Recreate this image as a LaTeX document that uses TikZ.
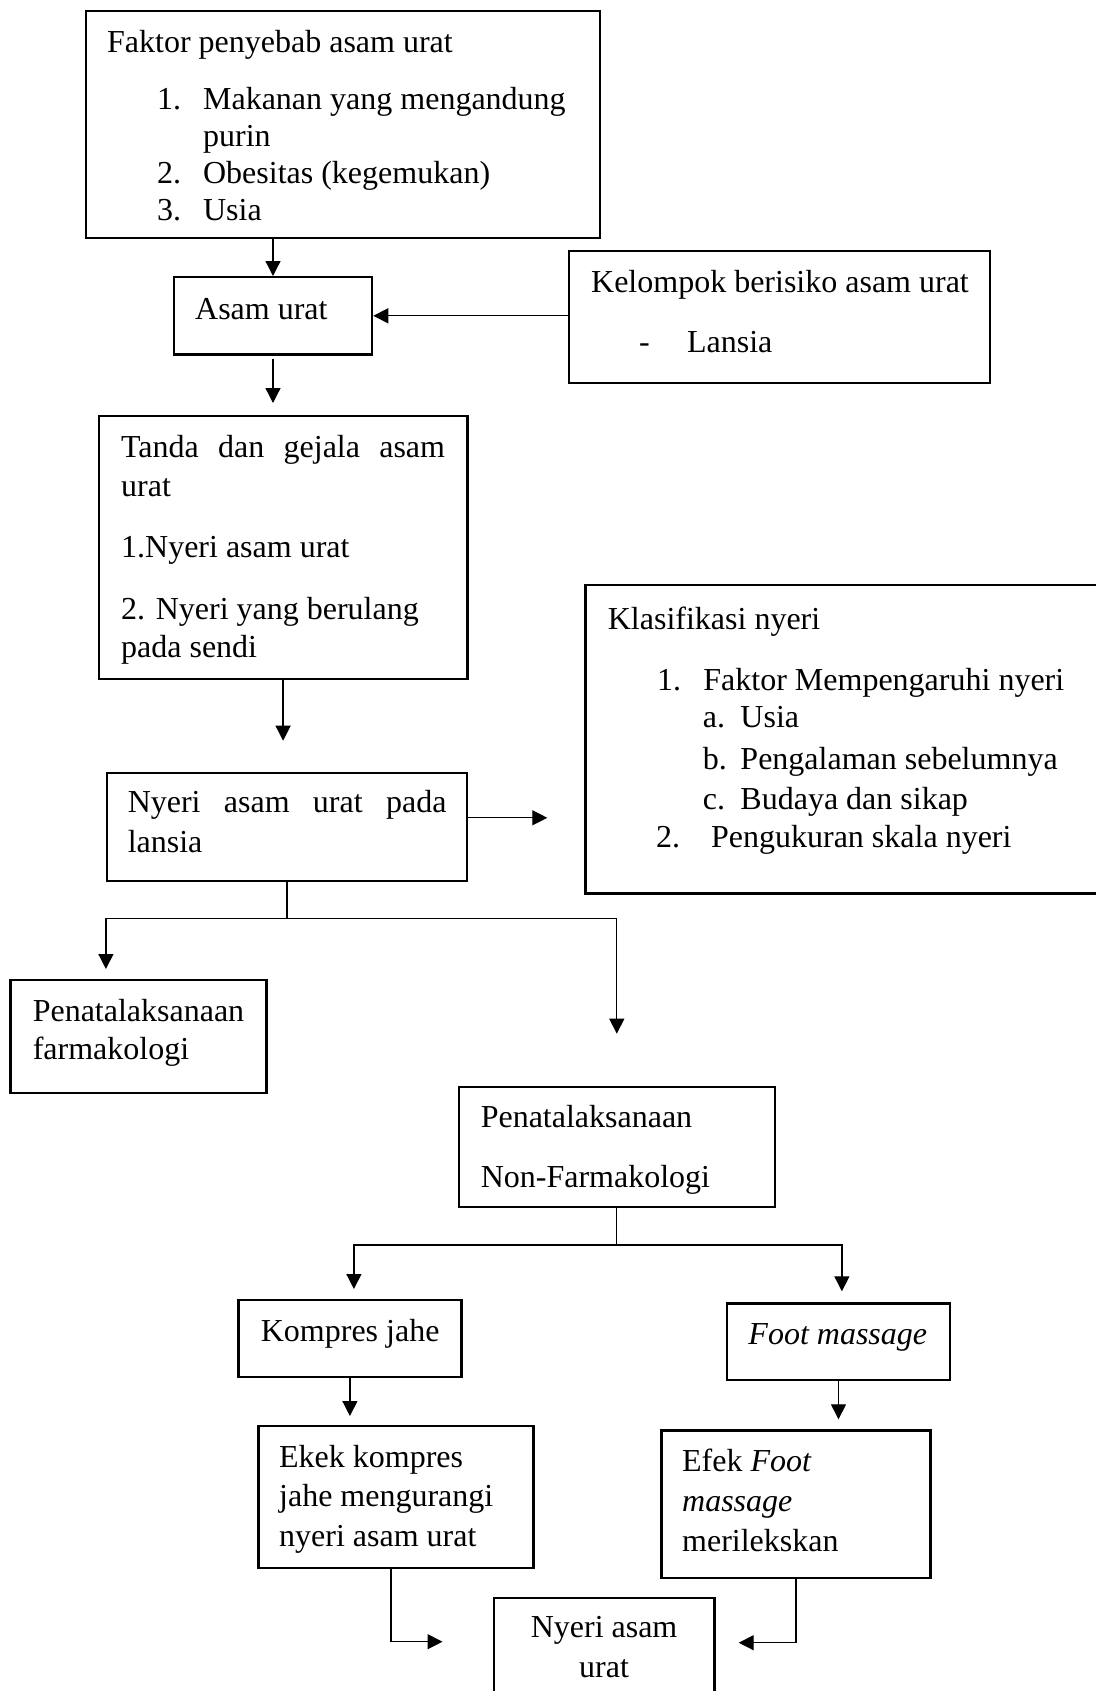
\documentclass[tikz,border=0pt]{standalone}
\usepackage{fontspec}
\setmainfont{Liberation Serif}
\usepackage{tikz}
\usetikzlibrary{arrows.meta}
\hyphenpenalty=10000
\newcommand{\butir}[3]{\hspace*{#1pt}\makebox[\dimexpr#2pt-#1pt\relax][l]{#3}}

\begin{document}
\begin{tikzpicture}[x=1pt,y=-1pt,>={Triangle[length=15pt,width=15pt]},
	kotak/.style={draw,line width=2.3pt,anchor=north west,inner ysep=0pt,align=flush left,font=\fontsize{32}{37}\selectfont},
	garis/.style={line width=1.3pt},
	panah/.style={garis,->}]
	\useasboundingbox (0,0) rectangle (1095,1691);

	\node[kotak,inner xsep=21pt,text width=472pt,text height=41pt,text depth=186pt] (faktor) at (85,10) {Faktor penyebab asam urat\\[20pt]\butir{50}{96}{1.}Makanan yang mengandung\\ \hspace*{96pt}purin\\ \butir{50}{96}{2.}Obesitas (kegemukan)\\ \butir{50}{96}{3.}Usia};
	\node[kotak,inner xsep=21.3pt,text width=155.7pt,text height=42pt,text depth=35.3pt] (asam) at (172.7,276) {Asam urat};
	\node[kotak,inner xsep=22.3pt,text width=376.7pt,text height=41pt,text depth=90.7pt] (kelompok) at (567.7,250) {\mbox{Kelompok berisiko asam urat}\\[23.7pt]\butir{48}{96}{-}Lansia};
	\node[kotak,inner xsep=22.5pt,text width=323.9pt,text height=41.7pt,text depth=221.3pt] (tanda) at (97.5,415) {\makebox[\linewidth][s]{Tanda dan gejala asam}\\[1.3pt]urat\\[24.7pt]1.Nyeri asam urat\\[24.3pt]2. Nyeri yang berulang\\[1.7pt]pada sendi};
	\node[kotak,inner xsep=20.7pt,text width=318.7pt,text height=40pt,text depth=68.3pt] (lansia) at (105.9,771.7) {\makebox[\linewidth][s]{Nyeri asam urat pada}\\[3pt]lansia};
	\node[kotak,inner xsep=22.4pt,text width=480.9pt,text height=44.3pt,text depth=264pt] (klasifikasi) at (584.3,584) {Klasifikasi nyeri\\[24pt]\butir{49.3}{95.6}{1.}Faktor Mempengaruhi nyeri\\[0.4pt]\butir{95}{132.6}{a.}Usia\\[4.6pt]\butir{95}{132.6}{b.}Pengalaman sebelumnya\\[3pt]\butir{95}{132.6}{c.}Budaya dan sikap\\[1.4pt]\butir{48.3}{103.3}{2.}Pengukuran skala nyeri};
	\node[kotak,inner xsep=22.4pt,text width=211.3pt,text height=41pt,text depth=71.7pt] (farmako) at (9.2,979) {\mbox{Penatalaksanaan}\\[1.3pt]farmakologi};
	\node[kotak,inner xsep=21.9pt,text width=272.1pt,text height=41pt,text depth=79.3pt] (nonfarmako) at (457.7,1085.7) {Penatalaksanaan\\[23pt]Non-Farmakologi};
	\node[kotak,inner xsep=22.4pt,text width=178.1pt,text height=41pt,text depth=35.7pt] (kompres) at (237.3,1299) {\mbox{Kompres jahe}};
	\node[kotak,inner xsep=21.4pt,text width=180.1pt,text height=41pt,text depth=35.7pt] (foot) at (725.9,1302.3) {\mbox{\textit{Foot massage}}};
	\node[kotak,inner xsep=20.8pt,text width=233.5pt,text height=41.7pt,text depth=100pt] (ekek) at (257.2,1425) {Ekek kompres\\[1.3pt]jahe mengurangi\\[3pt]nyeri asam urat};
	\node[kotak,inner xsep=20.8pt,text width=227.6pt,text height=40.7pt,text depth=106.7pt] (efek) at (660.2,1429.3) {Efek \textit{Foot}\\[3pt]\textit{massage}\\[3pt]merilekskan};
	\node[kotak,align=flush center,inner xsep=10pt,text width=200.9pt,text height=40pt,text depth=83.3pt] (akhir) at (492.5,1596.7) {Nyeri asam\\[3pt]urat};

	\coordinate (ke klasifikasi) at ([yshift=9.2pt]lansia.east);
	\coordinate (cabang) at ([yshift=-36pt]lansia.south);
	\coordinate (cabang2) at ([yshift=-36.7pt]nonfarmako.south);

	\draw[panah] (faktor.south -| asam.north) -- (asam.north);
	\draw[panah] (kelompok.west |- asam.east) -- (asam.east);
	\draw[panah,shorten <=3pt,shorten >=12pt] (asam.south) -- (asam.south |- tanda.north);
	\draw[panah,shorten >=31pt] (tanda.south) -- (tanda.south |- lansia.north);
	\draw[panah,shorten >=37pt] (ke klasifikasi) -- (ke klasifikasi -| klasifikasi.west);
	\draw[garis] (lansia.south) -- (cabang);
	\draw[panah,shorten >=10pt] (cabang) -| (lansia.west |- farmako.north);
	\draw[panah,shorten >=52pt] (cabang) -| (nonfarmako.north);
	\draw[garis] (nonfarmako.south) -- (cabang2);
	\draw[panah,shorten >=10pt] (cabang2) -| ([xshift=4pt]kompres.north);
	\draw[panah,shorten >=11pt] (cabang2) -| ([xshift=3.4pt]foot.north);
	\draw[panah,shorten >=9pt] (kompres.south) -- (kompres.south |- ekek.north);
	\draw[panah,shorten >=10pt] (foot.south) -- (foot.south |- efek.north);
	\draw[panah,shorten >=50pt] ([xshift=-5pt]ekek.south) |- ([yshift=-45pt]akhir.north west);
	\draw[panah,shorten >=23pt] (efek.south) |- ([yshift=-46pt]akhir.north east);
\end{tikzpicture}
\end{document}
